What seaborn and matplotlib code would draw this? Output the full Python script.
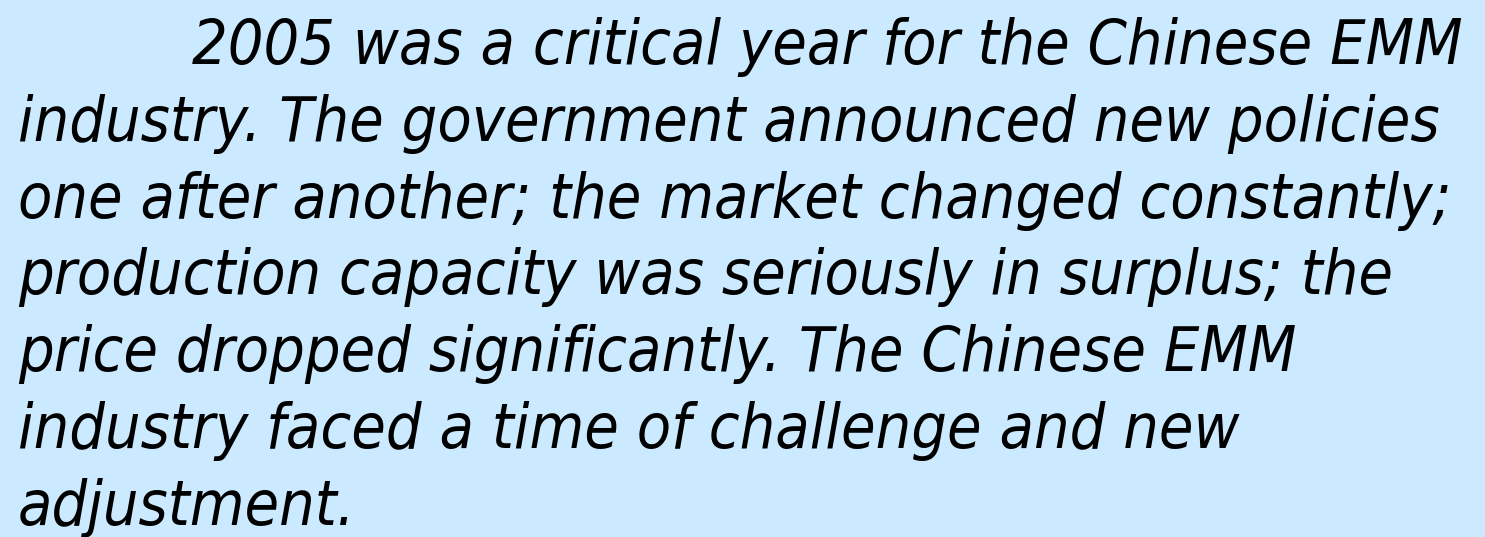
import matplotlib
matplotlib.use("Agg")
import matplotlib.pyplot as plt
import seaborn as sns

# Text content of the slide, one entry per rendered line
lines = [
    "2005 was a critical year for the Chinese EMM",
    "industry. The government announced new policies",
    "one after another; the market changed constantly;",
    "production capacity was seriously in surplus; the",
    "price dropped significantly. The Chinese EMM",
    "industry faced a time of challenge and new",
    "adjustment.",
]
indents = [192, 18, 18, 18, 18, 18, 18]

BG = "#cceaff"

sns.set_theme(style="white")
plt.rcParams['font.family'] = ['DejaVu Sans']

W, H = 1485, 537
fig = plt.figure(figsize=(W / 100, H / 100), dpi=100)
fig.patch.set_facecolor(BG)
ax = fig.add_axes([0, 0, 1, 1])
ax.set_facecolor(BG)
ax.set_xlim(0, W)
ax.set_ylim(H, 0)
ax.axis("off")

baseline0 = 64
step = 76.8
for i, (txt, x0) in enumerate(zip(lines, indents)):
    ax.text(x0, baseline0 + i * step, txt, fontsize=45, style="italic",
            fontstretch="condensed", color="black", ha="left", va="baseline")

fig.savefig("out.png", dpi=100, facecolor=BG)
